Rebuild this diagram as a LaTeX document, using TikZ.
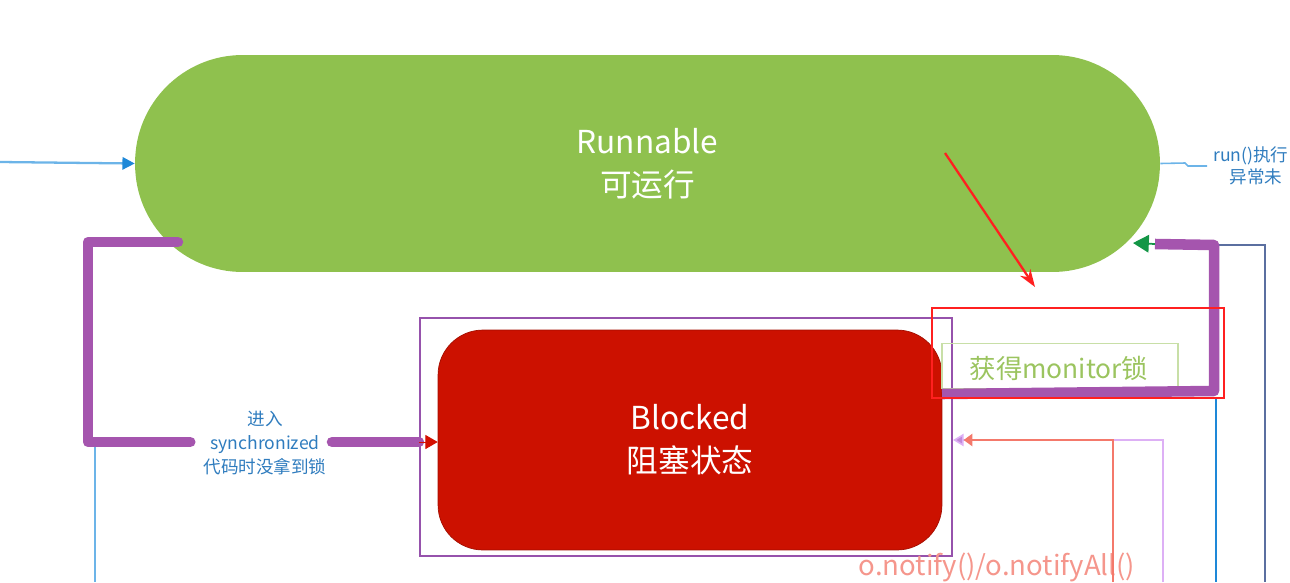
\documentclass[tikz,border=0pt]{standalone}
\usepackage{fontspec}
\setmainfont{Noto Sans CJK SC}
\usepackage{xcolor}
\usetikzlibrary{arrows.meta,positioning,calc}

\definecolor{runGreen}{RGB}{143,193,78}
\definecolor{blockRed}{RGB}{204,17,0}
\definecolor{markPurple}{RGB}{165,85,174}
\definecolor{framePurple}{RGB}{150,82,172}
\definecolor{noteBlue}{RGB}{47,124,190}
\definecolor{lineBlue}{RGB}{108,180,232}
\definecolor{deepBlue}{RGB}{30,136,216}
\definecolor{slateBlue}{RGB}{91,111,160}
\definecolor{salmon}{RGB}{244,121,107}
\definecolor{lilac}{RGB}{221,176,245}
\definecolor{notifyPink}{RGB}{245,150,140}
\definecolor{lockGreen}{RGB}{155,196,95}
\definecolor{markRed}{RGB}{255,32,32}
\definecolor{tipGreen}{RGB}{20,150,70}

\begin{document}
\begin{tikzpicture}[x=0.02cm,y=-0.02cm,>=Latex,
  state/.style={align=center,text=white,font=\fontsize{18}{24.5}\selectfont,inner sep=0pt},
  note/.style={align=center,text=noteBlue,font=\fontsize{10}{13.6}\selectfont},
  hilite/.style={line width=6pt,markPurple,line cap=round,line join=round},
  thin/.style={line width=0.9pt}
]
\useasboundingbox (0,0) rectangle (1290,582);
\clip (0,0) rectangle (1290,582);

% states
\node[state,fill=runGreen,minimum width=20.5cm,minimum height=4.34cm,rounded corners=2.15cm] (runnable) at (647.5,163.5) {Runnable\\可运行};
\node[draw=framePurple,line width=1.3pt,minimum width=10.64cm,minimum height=4.76cm,inner sep=0pt] (blockframe) at (686,437) {};
\node[state,fill=blockRed,draw=blockRed!80!black,line width=0.4pt,minimum width=10.08cm,minimum height=4.4cm,rounded corners=0.9cm] (blocked) at (690,440) {Blocked\\阻塞状态};

% labels
\node[note] (syncnote) at (265,443) {进入\\synchronized\\代码时没拿到锁};
\node[note,font=\fontsize{10}{12.5}\selectfont,anchor=west] (runnote) at (1207,166) {run()执行\\\hspace*{6pt}异常未};
\node[draw=lockGreen!55,line width=0.8pt,minimum width=4.72cm,minimum height=0.9cm,inner sep=0pt] (lockbox) at (1060,366) {};
\node[text=lockGreen,font=\fontsize{15}{18}\selectfont] (locktext) at (1059,368) {获得monitor锁};
\node[text=notifyPink,font=\fontsize{15.7}{18}\selectfont] (notify) at (997,567) {o.notify()/o.notifyAll()};

% free ends
\coordinate (inL) at (0,162);
\coordinate (outR) at (1185,163);
\coordinate (syncA) at (178,242);
\coordinate (syncB) at (88,242);
\coordinate (syncC) at (88,442);
\coordinate (syncD) at (332,442);
\coordinate (lowL) at (95,447);
\coordinate (gotA) at (942,394);
\coordinate (gotB) at (1214,391);
\coordinate (gotC) at (1214,245);
\coordinate (gotD) at (1155,244);
\coordinate (backTip) at (1133,243);
\coordinate (slateTop) at (1265,245);
\coordinate (wakeR) at (1113,440);
\coordinate (wakeP) at (1163,440);

% thin connectors
\draw[line width=1.3pt,lineBlue,-{Triangle[length=7pt,width=7pt,color=deepBlue]}] (inL) -- (runnable.west);
\draw[thin,lineBlue] (runnable.east) -- (outR) -- ++(3,3) -- (runnote.west |- 0,166);
\draw[thin,lineBlue] (lowL) -- (95,582);
\draw[thin,slateBlue] (gotC) -- (slateTop) -- (1265,582);
\draw[line width=1.6pt,deepBlue] (1216,398) -- (1216,582);
\draw[thin,lilac,-{Triangle[length=6pt,width=7pt,fill=lilac!60!framePurple]}] (1163,582) -- (wakeP) -- (blockframe.east |- wakeP);
\draw[line width=1.1pt,salmon,-{Triangle[length=5pt,width=7pt]}] (1113,582) -- (wakeR) -- ([xshift=6pt]blockframe.east |- wakeR);

% highlighted paths
\draw[hilite] (syncA) -- (syncB) -- (syncC) -- ([xshift=-4pt]syncnote.west |- syncC);
\draw[hilite] (syncD) -- (blockframe.west |- syncD);
\draw[-{Triangle[length=7pt,width=8pt]},blockRed!85!red,line width=0.5pt] (blockframe.west |- syncD) -- (blocked.west |- syncD);
\draw[hilite,line cap=butt] (gotA) -- (gotB) -- (gotC) -- (gotD);
\draw[-{Triangle[length=9pt,width=10pt]},tipGreen,line width=1pt] (gotD) -- (backTip);

% red annotation
\draw[markRed,line width=1.3pt,-{Stealth[length=10pt,width=7pt]}] (945,153) -- (1035,287);
\node[draw=markRed,line width=1.2pt,minimum width=5.84cm,minimum height=1.8cm,inner sep=0pt] (markbox) at (1078,353) {};
\end{tikzpicture}
\end{document}
